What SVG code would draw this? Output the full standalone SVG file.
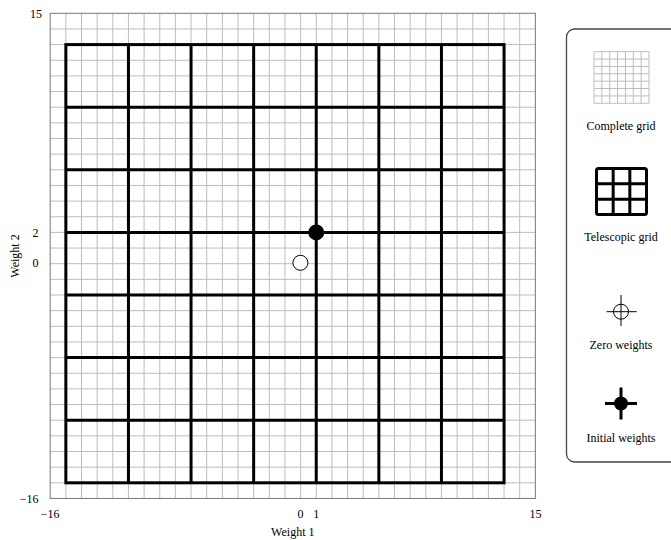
<svg xmlns="http://www.w3.org/2000/svg" width="671" height="540" viewBox="0 0 671 540">
<style>
text{font-family:"Liberation Serif","Times New Roman",serif;font-size:12px;fill:#000}
.minor{stroke:#bdbdbd;stroke-width:1;fill:none}
.frame{stroke:#777;stroke-width:1;fill:none}
.thick{stroke:#000;stroke-width:3;fill:none}
.mid{text-anchor:middle}
.end{text-anchor:end}
</style>
<rect x="0" y="0" width="671" height="540" fill="#fff"/>
<g id="complete-grid">
<path class="minor" d="M65.85 13.3V498.45M81.5 13.3V498.45M97.15 13.3V498.45M112.8 13.3V498.45M128.45 13.3V498.45M144.1 13.3V498.45M159.75 13.3V498.45M175.4 13.3V498.45M191.05 13.3V498.45M206.7 13.3V498.45M222.35 13.3V498.45M238 13.3V498.45M253.65 13.3V498.45M269.3 13.3V498.45M284.95 13.3V498.45M300.6 13.3V498.45M316.25 13.3V498.45M331.9 13.3V498.45M347.55 13.3V498.45M363.2 13.3V498.45M378.85 13.3V498.45M394.5 13.3V498.45M410.15 13.3V498.45M425.8 13.3V498.45M441.45 13.3V498.45M457.1 13.3V498.45M472.75 13.3V498.45M488.4 13.3V498.45M504.05 13.3V498.45M519.7 13.3V498.45"/>
<path class="minor" d="M50.2 28.95H535.35M50.2 44.6H535.35M50.2 60.25H535.35M50.2 75.9H535.35M50.2 91.55H535.35M50.2 107.2H535.35M50.2 122.85H535.35M50.2 138.5H535.35M50.2 154.15H535.35M50.2 169.8H535.35M50.2 185.45H535.35M50.2 201.1H535.35M50.2 216.75H535.35M50.2 232.4H535.35M50.2 248.05H535.35M50.2 263.7H535.35M50.2 279.35H535.35M50.2 295H535.35M50.2 310.65H535.35M50.2 326.3H535.35M50.2 341.95H535.35M50.2 357.6H535.35M50.2 373.25H535.35M50.2 388.9H535.35M50.2 404.55H535.35M50.2 420.2H535.35M50.2 435.85H535.35M50.2 451.5H535.35M50.2 467.15H535.35M50.2 482.8H535.35"/>
<rect class="frame" x="50.2" y="13.3" width="485.15" height="485.15"/>
</g>
<g id="telescopic-grid">
<rect class="thick" x="65.85" y="44.6" width="438.2" height="438.2"/>
<path class="thick" d="M128.45 44.6V482.8M191.05 44.6V482.8M253.65 44.6V482.8M316.25 44.6V482.8M378.85 44.6V482.8M441.45 44.6V482.8M65.85 107.2H504.05M65.85 169.8H504.05M65.85 232.4H504.05M65.85 295H504.05M65.85 357.6H504.05M65.85 420.2H504.05"/>
</g>
<g id="zero-weights">
<circle cx="300.4" cy="262.8" r="7.5" fill="#fff" stroke="#000" stroke-width="1"/>
</g>
<g id="initial-weights">
<circle cx="316.25" cy="232.4" r="8" fill="#000"/>
</g>
<g id="axes">
<text class="end" x="42" y="17.5">15</text>
<text class="end" x="38.5" y="236.6">2</text>
<text class="end" x="38.5" y="267">0</text>
<text class="end" x="38.5" y="503">−16</text>
<text class="mid" x="50.2" y="518">−16</text>
<text class="mid" x="300.6" y="517.5">0</text>
<text class="mid" x="316.25" y="517.5">1</text>
<text class="mid" x="535.4" y="517.5">15</text>
<text class="mid" x="292.8" y="536">Weight 1</text>
<text class="mid" x="19" y="256" transform="rotate(-90 19 256)">Weight 2</text>
</g>
<g id="legend">
<rect x="566.5" y="29" width="130" height="433" rx="8" ry="8" fill="#fff" stroke="#444" stroke-width="1.3"/>
<g id="legend-complete">
<path class="minor" d="M594 51.7H649M594 59.07H649M594 66.44H649M594 73.81H649M594 81.19H649M594 88.56H649M594 95.93H649M594 103.3H649M594 51.7V103.3M601.86 51.7V103.3M609.71 51.7V103.3M617.57 51.7V103.3M625.43 51.7V103.3M633.29 51.7V103.3M641.14 51.7V103.3M649 51.7V103.3"/>
<text class="mid" x="621" y="130">Complete grid</text>
</g>
<g id="legend-telescopic">
<rect x="596.5" y="168.5" width="50" height="46" rx="2" fill="none" stroke="#000" stroke-width="3" stroke-linejoin="round"/>
<path class="thick" d="M613.17 168.5V214.5M629.83 168.5V214.5M596.5 183.83H646.5M596.5 199.17H646.5"/>
<text class="mid" x="621" y="241">Telescopic grid</text>
</g>
<g id="legend-zero">
<circle cx="621" cy="311.7" r="7.5" fill="none" stroke="#000" stroke-width="1"/>
<path d="M606.5 311.7H636.7M621 295V326" stroke="#000" stroke-width="1"/>
<text class="mid" x="621" y="349">Zero weights</text>
</g>
<g id="legend-initial">
<circle cx="621" cy="403.5" r="7" fill="#000"/>
<path d="M605 403.5H637M621 387.5V419.5" stroke="#000" stroke-width="3"/>
<text class="mid" x="621" y="442">Initial weights</text>
</g>
</g>
</svg>
